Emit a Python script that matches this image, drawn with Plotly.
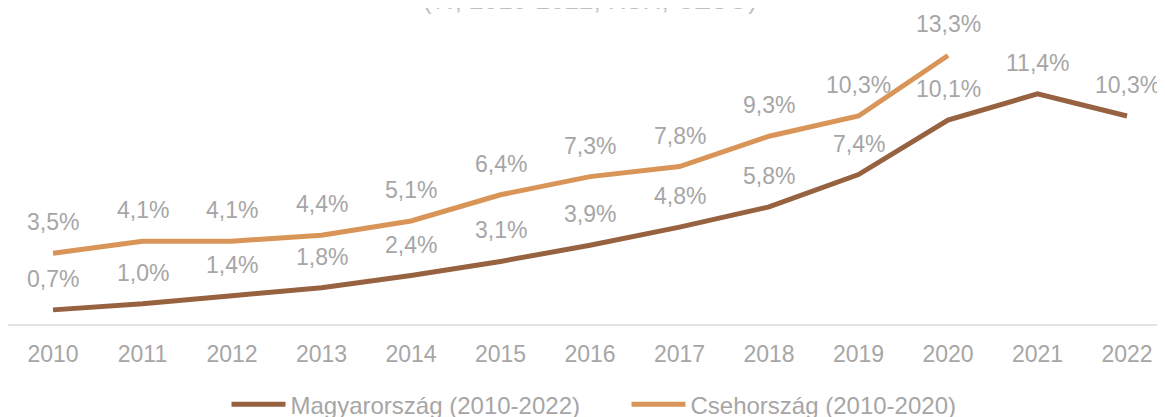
import plotly.graph_objects as go

years = ["2010", "2011", "2012", "2013", "2014", "2015", "2016", "2017", "2018", "2019", "2020", "2021", "2022"]
hu_values = [0.7, 1.0, 1.4, 1.8, 2.4, 3.1, 3.9, 4.8, 5.8, 7.4, 10.1, 11.4, 10.3]
cz_values = [3.5, 4.1, 4.1, 4.4, 5.1, 6.4, 7.3, 7.8, 9.3, 10.3, 13.3]
hu_name = "Magyarország (2010-2022)"
cz_name = "Csehország (2010-2020)"
title_text = "(%, 2010-2022, KSH, CZSO)"

HU_COLOR = "#976240"
CZ_COLOR = "#D99558"
TEXT_COLOR = "#A6A6A6"
FONT = "Liberation Sans, Arial, sans-serif"

def fmt(v):
    return f"{v:.1f}".replace(".", ",") + "%"

fig = go.Figure()
fig.add_trace(go.Scatter(x=years, y=hu_values, mode="lines", name=hu_name,
                         line=dict(color=HU_COLOR, width=5), hoverinfo="skip"))
fig.add_trace(go.Scatter(x=years[:len(cz_values)], y=cz_values, mode="lines", name=cz_name,
                         line=dict(color=CZ_COLOR, width=5), hoverinfo="skip"))

annotations = []
for ys in (hu_values, cz_values):
    for i, y in enumerate(ys):
        annotations.append(dict(x=i, y=y, xref="x", yref="y", text=fmt(y), showarrow=False,
                                yanchor="middle", yshift=31,
                                font=dict(family=FONT, size=23, color=TEXT_COLOR)))
annotations.append(dict(x=0.4996, y=1, xref="paper", yref="paper", text=title_text, showarrow=False,
                        yanchor="bottom", yshift=-9,
                        font=dict(family=FONT, size=26, color="#BFBFBF")))

fig.update_layout(
    width=1165, height=417,
    margin=dict(l=0, r=0, t=0, b=101, autoexpand=False),
    paper_bgcolor="white", plot_bgcolor="white",
    font=dict(family=FONT, size=23, color=TEXT_COLOR),
    showlegend=True,
    legend=dict(orientation="h", x=0.5309, xanchor="center", y=-0.255, yanchor="middle",
                font=dict(family=FONT, size=24, color=TEXT_COLOR),
                itemwidth=54, entrywidth=331, tracegroupgap=0, bgcolor="rgba(0,0,0,0)"),
    annotations=annotations,
)
fig.update_xaxes(type="category", range=[-0.503, 12.514], showgrid=False, zeroline=False,
                 showline=True, linecolor="#E3E3E3", linewidth=2,
                 ticks="outside", ticklen=8, tickcolor="rgba(0,0,0,0)",
                 tickfont=dict(family=FONT, size=23, color=TEXT_COLOR), fixedrange=True)
fig.update_yaxes(range=[0, 15.65], showgrid=False, zeroline=False, showline=False,
                 showticklabels=False, fixedrange=True)

fig.write_html("out.html")
